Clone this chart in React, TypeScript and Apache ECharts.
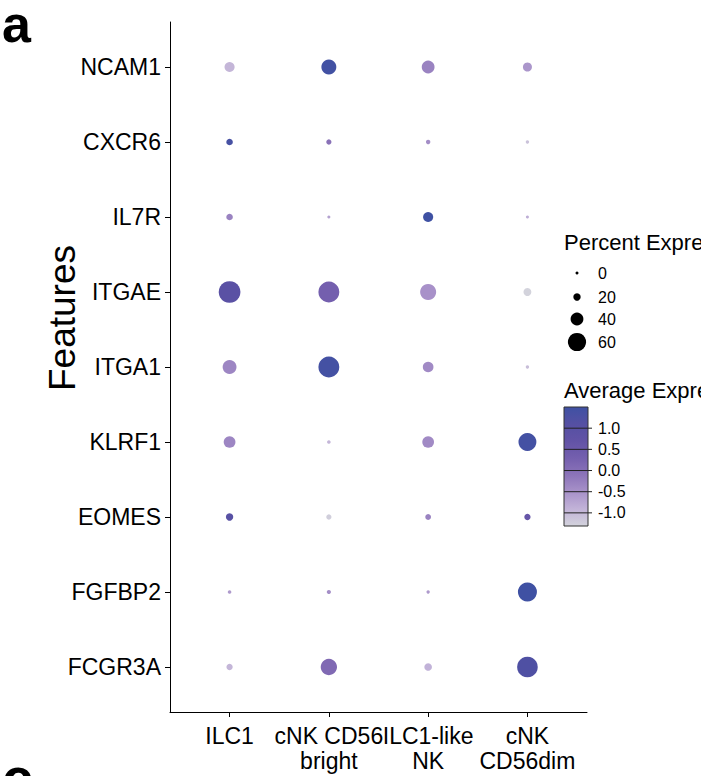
import React, { useEffect, useRef } from "react";
import * as echarts from "echarts";

const genes = ["NCAM1", "CXCR6", "IL7R", "ITGAE", "ITGA1", "KLRF1", "EOMES", "FGFBP2", "FCGR3A"];
const cellTypes = ["ILC1", "cNK CD56\nbright", "ILC1-like\nNK", "cNK\nCD56dim"];

// percent expressed, one row per gene, columns follow cellTypes
const pctNCAM1 = [30, 48, 40, 26];
const pctCXCR6 = [17, 12, 9, 5];
const pctIL7R = [17, 4, 30, 4];
const pctITGAE = [73, 70, 52, 22];
const pctITGA1 = [44, 70, 32, 5];
const pctKLRF1 = [36, 6, 36, 59];
const pctEOMES = [20, 12, 14, 16];
const pctFGFBP2 = [6, 8, 5, 63];
const pctFCGR3A = [16, 53, 21, 69];
const pctExpressed = [pctNCAM1, pctCXCR6, pctIL7R, pctITGAE, pctITGA1, pctKLRF1, pctEOMES, pctFGFBP2, pctFCGR3A];

// average (scaled) expression
const avgNCAM1 = [-0.95, 1.45, -0.3, -0.55];
const avgCXCR6 = [1.35, -0.05, -0.45, -1.1];
const avgIL7R = [-0.3, -0.7, 1.5, -0.85];
const avgITGAE = [0.95, 0.3, -0.5, -1.31];
const avgITGA1 = [-0.35, 1.4, -0.4, -1.05];
const avgKLRF1 = [-0.35, -0.95, -0.4, 1.4];
const avgEOMES = [1.0, -1.25, -0.3, 0.6];
const avgFGFBP2 = [-0.6, -0.45, -0.6, 1.5];
const avgFCGR3A = [-0.95, 0.1, -0.9, 1.2];
const avgExpression = [avgNCAM1, avgCXCR6, avgIL7R, avgITGAE, avgITGA1, avgKLRF1, avgEOMES, avgFGFBP2, avgFCGR3A];

const sizeLegendValues = [0, 20, 40, 60];
const colorTickValues = [1.0, 0.5, 0.0, -0.5, -1.0];
const colorMin = -1.31;
const colorMax = 1.5;
const colorStops = ["#d3d3dc", "#c2b3d8", "#a892c9", "#8c74b9", "#745fae", "#6253a6", "#5550a3", "#3f51a3"];

const FONT = "'Liberation Sans', Arial, Helvetica, sans-serif";
const sizeFor = (p: number) => Math.max(3, 2 + 0.27 * p);

export default function App() {
  const ref = useRef<HTMLDivElement>(null);
  useEffect(() => {
    if (!ref.current) return;
    const chart = echarts.init(ref.current, null, { renderer: "svg" });

    const data: number[][] = [];
    genes.forEach((g, gi) => {
      cellTypes.forEach((c, ci) => {
        data.push([ci, gi, pctExpressed[gi][ci], avgExpression[gi][ci]]);
      });
    });

    // color bar geometry
    const barX = 564, barY = 407, barW = 24, barH = 119;
    const valToY = (v: number) => barY + ((colorMax - v) / (colorMax - colorMin)) * barH;
    // offsets must increase: top of bar (offset 0) is the highest value
    const gradStops = colorStops
      .map((c, i) => ({ offset: i / (colorStops.length - 1), color: colorStops[colorStops.length - 1 - i] }));

    const legendDotY = [273, 297, 319, 342];
    const graphics: any[] = [
      { type: "text", x: 2, y: 23.5, style: { text: "a", font: `bold 52px ${FONT}`, fill: "#000", verticalAlign: "middle", lineHeight: 44 } },
      { type: "text", x: 2, y: 777, style: { text: "c", font: `bold 56px ${FONT}`, fill: "#000", verticalAlign: "middle" } },
      {
        type: "text", x: 62, y: 318, rotation: Math.PI / 2,
        style: { text: "Features", font: `37px ${FONT}`, fill: "#000", align: "center", verticalAlign: "middle" },
      },
      { type: "text", x: 564, y: 242, style: { text: "Percent Expressed", font: `22px ${FONT}`, fill: "#000", verticalAlign: "middle" } },
      { type: "text", x: 564, y: 390, style: { text: "Average Expression", font: `22px ${FONT}`, fill: "#000", verticalAlign: "middle" } },
      {
        type: "rect",
        shape: { x: barX, y: barY, width: barW, height: barH },
        style: { fill: new echarts.graphic.LinearGradient(0, 0, 0, 1, gradStops), stroke: "#333", lineWidth: 1 },
      },
    ];
    sizeLegendValues.forEach((v, i) => {
      graphics.push({ type: "circle", shape: { cx: 577, cy: legendDotY[i], r: sizeFor(v) / 2 }, style: { fill: "#000" } });
      graphics.push({ type: "text", x: 598, y: legendDotY[i], style: { text: String(v), font: `16px ${FONT}`, fill: "#000", verticalAlign: "middle" } });
    });
    colorTickValues.forEach((v) => {
      const y = valToY(v);
      graphics.push({ type: "line", shape: { x1: barX, y1: y, x2: barX + barW + 4, y2: y }, style: { stroke: "#222", lineWidth: 1 } });
      graphics.push({ type: "text", x: 598, y, style: { text: v.toFixed(1), font: `16px ${FONT}`, fill: "#000", verticalAlign: "middle" } });
    });

    chart.setOption({
      animation: false,
      backgroundColor: "#fff",
      grid: { left: 170, right: 114, top: 22, bottom: 64, containLabel: false, outerBoundsMode: "none" },
      xAxis: {
        type: "value",
        min: -0.6,
        max: cellTypes.length - 1 + 0.6,
        splitLine: { show: false },
        axisLine: { show: true, onZero: false, lineStyle: { color: "#000", width: 1 } },
        axisTick: { show: true, customValues: cellTypes.map((_, i) => i), length: 5, lineStyle: { color: "#000" } },
        axisLabel: {
          customValues: cellTypes.map((_, i) => i),
          formatter: (v: number) => cellTypes[Math.round(v)] ?? "",
          fontSize: 23,
          lineHeight: 25,
          fontFamily: FONT,
          color: "#000",
          margin: 11,
          hideOverlap: false,
        },
      },
      yAxis: {
        type: "value",
        inverse: true,
        min: -0.6,
        max: genes.length - 1 + 0.6,
        splitLine: { show: false },
        axisLine: { show: true, onZero: false, lineStyle: { color: "#000", width: 1 } },
        axisTick: { show: true, customValues: genes.map((_, i) => i), length: 5, lineStyle: { color: "#000" } },
        axisLabel: {
          customValues: genes.map((_, i) => i),
          formatter: (v: number) => genes[Math.round(v)] ?? "",
          fontSize: 23,
          fontFamily: FONT,
          color: "#000",
          margin: 9,
          hideOverlap: false,
        },
      },
      visualMap: {
        show: false,
        type: "continuous",
        seriesIndex: 0,
        dimension: 3,
        min: colorMin,
        max: colorMax,
        inRange: { color: colorStops },
      },
      series: [
        {
          type: "scatter",
          data,
          symbol: "circle",
          symbolSize: (val: number[]) => sizeFor(val[2]),
          itemStyle: { opacity: 1 },
        },
      ],
      graphic: graphics,
    });
    return () => chart.dispose();
  }, []);
  return <div ref={ref} style={{ position: "absolute", left: 0, top: 0, width: 701, height: 776 }} />;
}
